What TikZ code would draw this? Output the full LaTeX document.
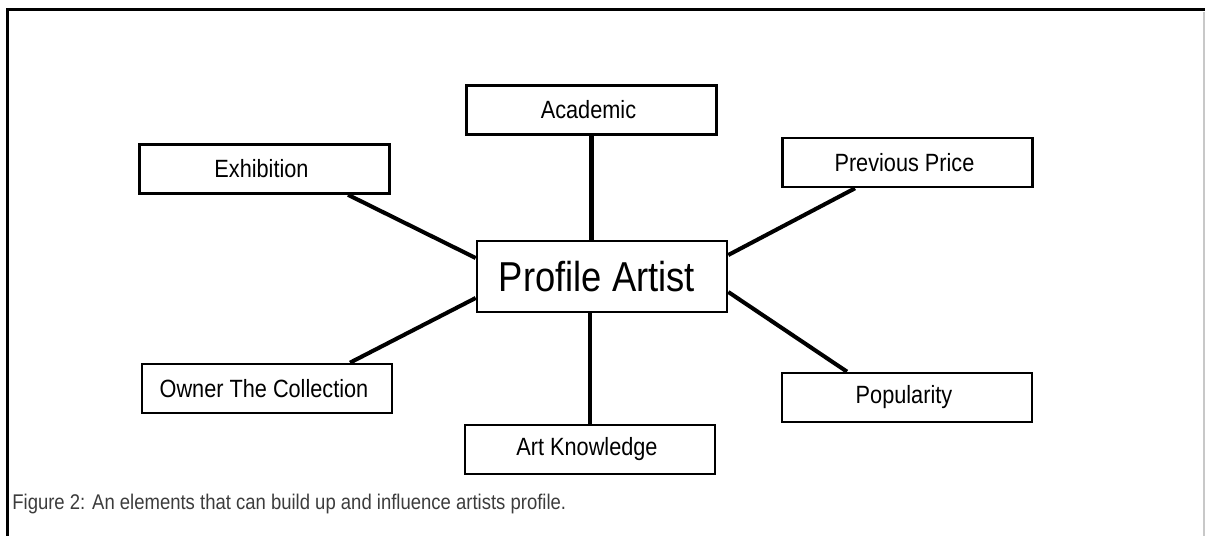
\documentclass[tikz,border=0pt]{standalone}
\usepackage{fontspec}
\setmainfont[FakeStretch=0.87]{Liberation Sans}
\usepackage{xcolor}
\usepackage{tikz}
\usetikzlibrary{
  positioning,
  calc
}
\definecolor{FrameGray}{HTML}{C8C8C8}
\definecolor{CaptionGray}{HTML}{3C3C3C}
\tikzset{
  factor/.style={
    draw,
    line width=1.5pt,
    fill=white,
    align=center,
    inner sep=0pt,
    minimum width=5cm,
    minimum height=0.98cm,
    font=\fontsize{14.2}{16}\selectfont
  },
  hub/.style={
    factor,
    minimum height=1.42cm,
    font=\fontsize{23.8}{27}\selectfont
  },
  link/.style={
    line width=2.3pt
  }
}

\begin{document}
\begin{tikzpicture}[
  x=0.02cm,
  y=-0.02cm
]

  \useasboundingbox (0,0) rectangle (1205,536);

  % page frame
  \draw[line width=1.7pt]
  (7.5,536) --
  (7.5,9.5) --
  (1205,9.5);

  \draw[FrameGray, line width=0.8pt]
  (1204,12) --
  (1204,536);

  \node[hub] (profile) at (602,276.5) {
    Profile Artist
  };

  \node[factor] (academic) at (591.5,110) {
    Academic
  };

  \node[factor] (exhibition) at (264.5,169) {
    Exhibition
  };

  \node[factor] (prevPrice) at (907.5,162.5) {
    Previous Price
  };

  \node[factor] (owner) at (267,388.5) {
    Owner The Collection
  };

  \node[factor] (popularity) at (907,397.5) {
    Popularity
  };

  \node[factor] (artKnowledge) at (590,449.5) {
    Art Knowledge
  };

  \draw[link]
  (academic.south) --
  (academic.south |- profile.north);

  \draw[link]
  (artKnowledge.north) --
  (artKnowledge.north |- profile.south);

  \draw[link]
  ([xshift=1.67cm]exhibition.south) --
  ([yshift=0.37cm]profile.west);

  \draw[link]
  ([xshift=-1.05cm]prevPrice.south) --
  ([yshift=0.43cm]profile.east);

  \draw[link]
  ([xshift=1.66cm]owner.north) --
  ([yshift=-0.43cm]profile.west);

  \draw[link]
  ([xshift=-1.2cm]popularity.north) --
  ([yshift=-0.31cm]profile.east);

  \node[
    anchor=base west,
    text=CaptionGray,
    inner sep=0pt,
    font=\fontsize{12.1}{14}\selectfont
  ] (caption) at (12,510) {
    Figure 2: An elements that can build up and influence artists profile.
  };

\end{tikzpicture}
\end{document}
